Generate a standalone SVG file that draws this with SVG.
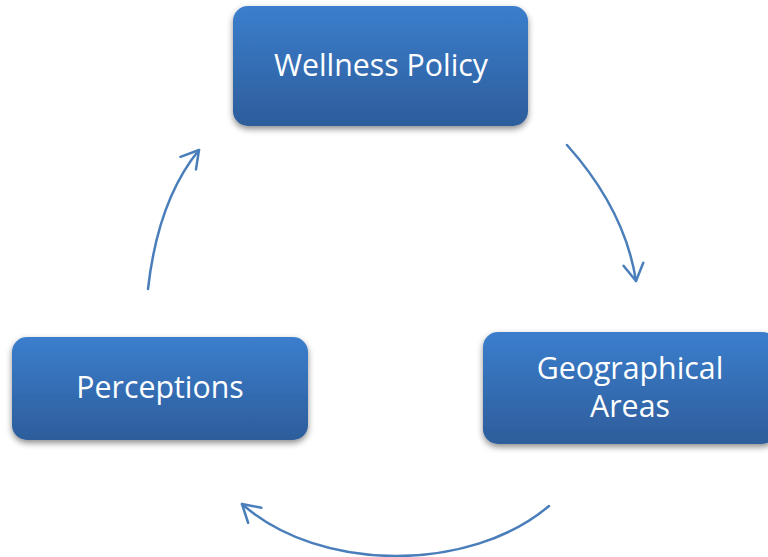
<svg xmlns="http://www.w3.org/2000/svg" width="768" height="557" viewBox="0 0 768 557">
  <defs>
    <linearGradient id="boxFill" x1="0" y1="0" x2="0" y2="1">
      <stop offset="0" stop-color="#3b7ecd"/>
      <stop offset="1" stop-color="#2d5d9b"/>
    </linearGradient>
    <filter id="shadow" x="-10%" y="-15%" width="120%" height="140%">
      <feDropShadow dx="0" dy="3" stdDeviation="3" flood-color="#000" flood-opacity="0.45"/>
    </filter>
    <marker id="head" markerUnits="userSpaceOnUse" markerWidth="24" markerHeight="24" viewBox="-20 -12 24 24" refX="0" refY="0" orient="auto">
      <path d="M-17,-10 L0,0 L-17,10" fill="none" stroke="#4a7ebb" stroke-width="2.5" stroke-linecap="round" stroke-linejoin="round"/>
    </marker>
    <style>
      .box { fill: url(#boxFill); filter: url(#shadow); }
      .label { font-family: "Open Sans", "Noto Sans", "Liberation Sans", sans-serif; font-size: 30.3px; fill: #ffffff; text-anchor: middle; }
      .link { fill: none; stroke: #4a7ebb; stroke-width: 2.5; stroke-linecap: round; marker-end: url(#head); }
    </style>
  </defs>

  <g id="connectors">
    <path class="link" d="M567,145 Q625,210 636,281"/>
    <path class="link" d="M549,506 C470,573 320,573 242,504"/>
    <path class="link" d="M148,289 Q158,200 199,150"/>
  </g>

  <g id="wellness-policy">
    <rect class="box" x="233" y="6" width="295" height="120" rx="15"/>
    <text class="label" x="381" y="76">Wellness Policy</text>
  </g>

  <g id="geographical-areas">
    <rect class="box" x="483" y="332" width="294" height="112" rx="15"/>
    <text class="label" x="630" y="379">Geographical</text>
    <text class="label" x="630" y="417">Areas</text>
  </g>

  <g id="perceptions">
    <rect class="box" x="12" y="337" width="296" height="103" rx="15"/>
    <text class="label" x="160" y="398">Perceptions</text>
  </g>
</svg>
